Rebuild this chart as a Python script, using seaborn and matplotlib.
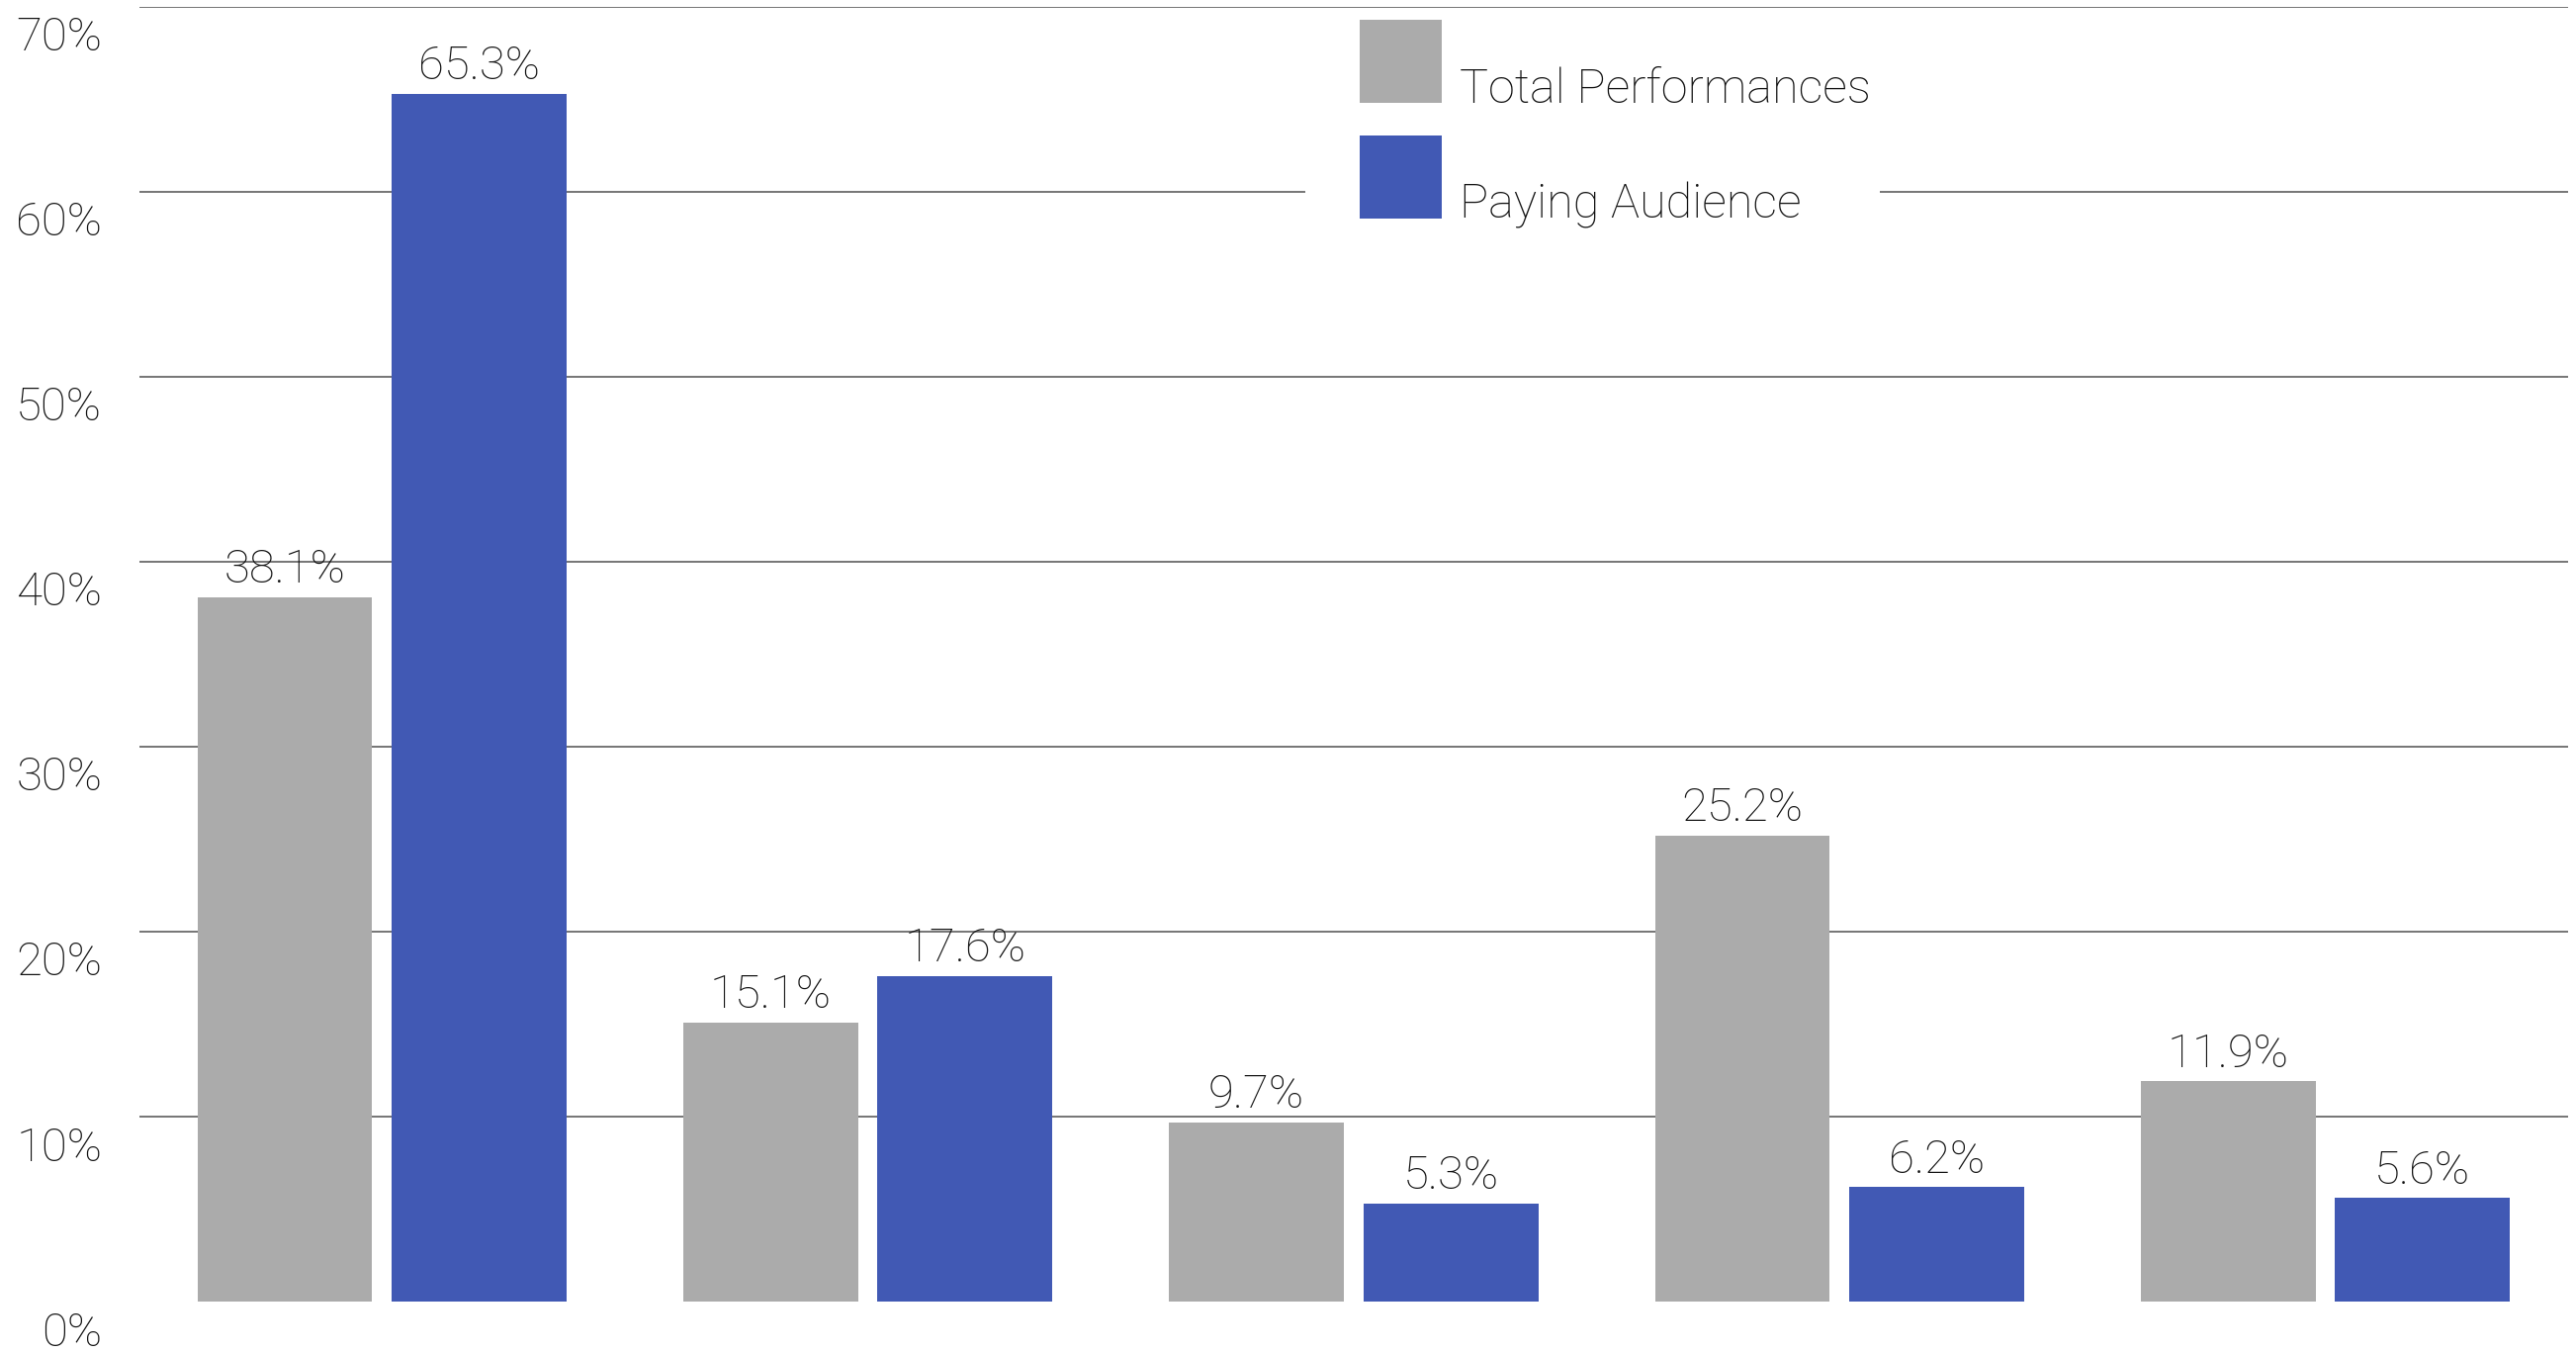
import pandas as pd
import seaborn as sns
import matplotlib.pyplot as plt
from matplotlib.patches import Patch
from matplotlib.transforms import ScaledTranslation

# valores
groups = ['G1', 'G2', 'G3', 'G4', 'G5']
total_performances = [38.1, 15.1, 9.7, 25.2, 11.9]
paying_audience = [65.3, 17.6, 5.3, 6.2, 5.6]
series_names = ['Total Performances', 'Paying Audience']
y_ticks = [0, 10, 20, 30, 40, 50, 60, 70]
y_tick_labels = ['0%', '10%', '20%', '30%', '40%', '50%', '60%', '70%']

gray = '#ABABAB'
blue = '#4159B4'

df = pd.DataFrame({
    'group': groups * 2,
    'serie': [series_names[0]] * 5 + [series_names[1]] * 5,
    'valor': total_performances + paying_audience,
})

sns.set_style("white")
plt.rcParams['font.family'] = ['Roboto', 'DejaVu Sans']
plt.rcParams['font.weight'] = 'light'

fig = plt.figure(figsize=(26.05, 13.67), dpi=100)
ax = fig.add_axes([0.054, 0.0373, 0.943, 0.9576])

sns.barplot(data=df, x='group', y='valor', hue='serie', hue_order=series_names,
            palette={series_names[0]: gray, series_names[1]: blue}, saturation=1,
            width=0.8, gap=0.1, linewidth=0, legend=False, ax=ax)

# rótulos em cima das barras
for cont in ax.containers:
    ax.bar_label(cont, fmt='{:.1f}%', padding=4, fontsize=34, color='#111111')

ax.set_xlim(-0.5, 4.5)
ax.set_ylim(0, 70)
ax.set_yticks(y_ticks)
ax.set_yticklabels(y_tick_labels, fontsize=34, color='#111111')
ax.set_xticks([])
ax.set_xlabel('')
ax.set_ylabel('')
ax.tick_params(axis='y', length=0, pad=27)
for lab in ax.get_yticklabels():
    lab.set_transform(lab.get_transform() + ScaledTranslation(0, -0.27, fig.dpi_scale_trans))

ax.set_axisbelow(True)
ax.yaxis.grid(True, color='#757575', linewidth=1.4)
ax.get_ygridlines()[0].set_visible(False)
sns.despine(ax=ax, left=True, bottom=True)

# legenda
handles = [Patch(facecolor=gray, edgecolor='none', label=series_names[0]),
           Patch(facecolor=blue, edgecolor='none', label=series_names[1])]
leg = ax.legend(handles=handles, loc='upper left', bbox_to_anchor=(0.5067, 0.9927),
                bbox_transform=fig.transFigure, borderaxespad=0, fontsize=35,
                frameon=True, facecolor='white', edgecolor='none', framealpha=1,
                fancybox=False, borderpad=0.2, handlelength=2.6, handleheight=2.28,
                handletextpad=0.4, labelspacing=0.68)
for p, t in zip(leg.get_patches(), leg.get_texts()):
    p.set_x(p.get_x() + 32.4)
    p.set_width(60)
    t.set_y(p.get_y() * 100 / 72)
    t.set_color('#111111')

plt.savefig('out.png', dpi=100)
